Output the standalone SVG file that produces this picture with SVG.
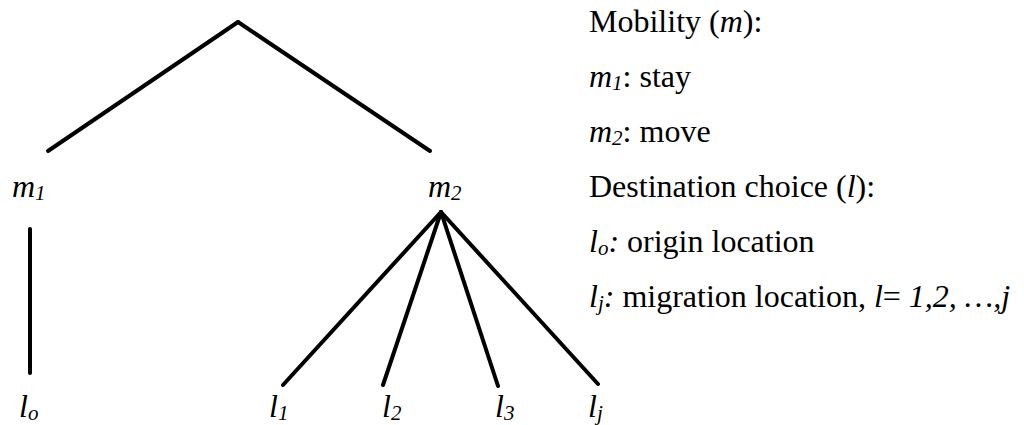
<svg xmlns="http://www.w3.org/2000/svg" width="1024" height="425" viewBox="0 0 1024 425">
<style>
.edge { stroke: #000; stroke-width: 4; stroke-linecap: round; fill: none; }
</style>
<rect width="1024" height="425" fill="#fff"/>
<g id="connectors">
  <line class="edge" x1="238" y1="22" x2="48" y2="151"/>
  <line class="edge" x1="238" y1="22" x2="430" y2="151"/>
  <line class="edge" x1="30" y1="229" x2="30" y2="373"/>
  <line class="edge" x1="441" y1="212" x2="283" y2="385"/>
  <line class="edge" x1="441" y1="212" x2="383" y2="385"/>
  <line class="edge" x1="441" y1="212" x2="498" y2="386"/>
  <line class="edge" x1="441" y1="212" x2="598" y2="384"/>
</g>
<g font-family="Liberation Serif" font-size="32" fill="#000">
<g id="node-m1"><text x="12" y="197"><tspan font-style="italic">m</tspan><tspan font-style="italic" font-size="21" dy="3">1</tspan></text></g>
<g id="node-m2"><text x="428" y="197"><tspan font-style="italic">m</tspan><tspan font-style="italic" font-size="21" dy="3">2</tspan></text></g>
<g id="node-lo"><text x="19" y="417"><tspan font-style="italic">l</tspan><tspan font-style="italic" font-size="21" dy="3">o</tspan></text></g>
<g id="node-l1"><text x="269" y="417"><tspan font-style="italic">l</tspan><tspan font-style="italic" font-size="21" dy="3">1</tspan></text></g>
<g id="node-l2"><text x="382" y="417"><tspan font-style="italic">l</tspan><tspan font-style="italic" font-size="21" dy="3">2</tspan></text></g>
<g id="node-l3"><text x="495" y="417"><tspan font-style="italic">l</tspan><tspan font-style="italic" font-size="21" dy="3">3</tspan></text></g>
<g id="node-lj"><text x="588" y="417"><tspan font-style="italic">l</tspan><tspan font-style="italic" font-size="21" dy="3">j</tspan></text></g>
<g id="legend">
  <text x="589" y="32">Mobility (<tspan font-style="italic">m</tspan>):</text>
  <text x="589" y="87"><tspan font-style="italic">m</tspan><tspan font-style="italic" font-size="21" dy="3">1</tspan><tspan dy="-3">: stay</tspan></text>
  <text x="589" y="142"><tspan font-style="italic">m</tspan><tspan font-style="italic" font-size="21" dy="3">2</tspan><tspan dy="-3">: move</tspan></text>
  <text x="589" y="197">Destination choice (<tspan font-style="italic">l</tspan>):</text>
  <text x="589" y="252"><tspan font-style="italic">l</tspan><tspan font-style="italic" font-size="21" dy="3">o</tspan><tspan font-style="italic" dy="-3">:</tspan> origin location</text>
  <text x="589" y="307"><tspan font-style="italic">l</tspan><tspan font-style="italic" font-size="21" dy="3">j</tspan><tspan font-style="italic" dy="-3">:</tspan> migration location, <tspan font-style="italic">l</tspan>= <tspan font-style="italic">1,2, …,j</tspan></text>
</g>
</g>
</svg>
